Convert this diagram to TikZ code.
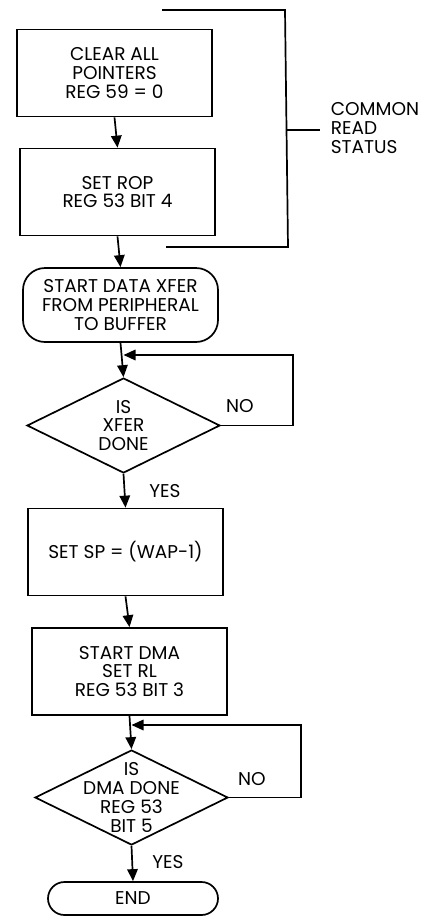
\documentclass[tikz,border=0pt]{standalone}
\usepackage{fontspec}
\setmainfont{Poppins}
\usetikzlibrary{arrows.meta,shapes.geometric,shapes.misc}
\begin{document}
\begin{tikzpicture}[x=1pt,y=1pt,
  line width=1.7pt,
  every node/.style={font=\fontsize{18.5}{18.8}\selectfont, align=center},
  box/.style={draw, rectangle, minimum width=195pt, minimum height=87pt, inner sep=0pt},
  rbox/.style={draw, rectangle, rounded corners=22pt, minimum width=195pt, minimum height=74pt, inner sep=0pt},
  dia/.style={draw, diamond, minimum width=193pt, minimum height=95pt, inner sep=0pt},
  term/.style={draw, rounded rectangle, minimum width=170pt, minimum height=33pt, inner sep=0pt},
  arr/.style={-{Triangle[width=10.5pt,length=12pt]}},
  lbl/.style={inner sep=0pt}
]
\useasboundingbox (0,0) rectangle (435,-916);

\node[box] (b1) at (114.5,-73) {CLEAR ALL\\POINTERS\\REG 59 = 0};
\node[box] (b2) at (117.5,-192) {SET ROP\\REG 53 BIT 4};
\node[rbox] (r1) at (120.5,-305) {START DATA XFER\\FROM PERIPHERAL\\TO BUFFER};
\node[dia, label={[align=center]center:IS\\XFER\\DONE}] (d1) at (123.5,-425.5) {};
\node[box] (b3) at (125.5,-552) {SET SP = (WAP-1)};
\node[box] (b4) at (129.5,-671.5) {START DMA\\SET RL\\REG 53 BIT 3};
\node[dia, label={[align=center]center:IS\\DMA DONE\\REG 53\\BIT 5}] (d2) at (131.5,-797.5) {};
\node[term] (e) at (133,-898.5) {END};

% bracket
\coordinate (t1) at (162,-10);
\coordinate (t2) at (285,-10);
\coordinate (t3) at (288,-247);
\coordinate (t4) at (166,-247);
\coordinate (tk1) at (286.5,-130);
\coordinate (tk2) at (320,-130);
\draw (t1) -- (t2) -- (t3) -- (t4);
\draw (tk1) -- (tk2);
\node[lbl, anchor=west, align=left] (crs) at (330,-128) {COMMON\\READ\\STATUS};

% main flow
\draw[arr] (b1.south) -- (b2.north);
\draw[arr] (b2.south) -- (r1.north);
\draw[arr] (r1.south) -- (d1.north);
\draw[arr] (d1.south) -- (b3.north);
\draw[arr] (b3.south) -- (b4.north);
\draw[arr] (b4.south) -- (d2.north);
\draw[arr] (d2.south) -- (e.north);

% loops
\coordinate (l1) at (293,-355);
\coordinate (j1) at (123.5,-355);
\draw[arr] (d1.east) -| (l1) -- (j1);
\coordinate (l2) at (301,-725);
\coordinate (j2) at (131.5,-725);
\draw[arr] (d2.east) -| (l2) -- (j2);

% labels
\node[lbl] (no1) at (240,-406) {NO};
\node[lbl] (yes1) at (165,-491) {YES};
\node[lbl] (no2) at (252,-779) {NO};
\node[lbl] (yes2) at (168,-862) {YES};
\end{tikzpicture}
\end{document}
